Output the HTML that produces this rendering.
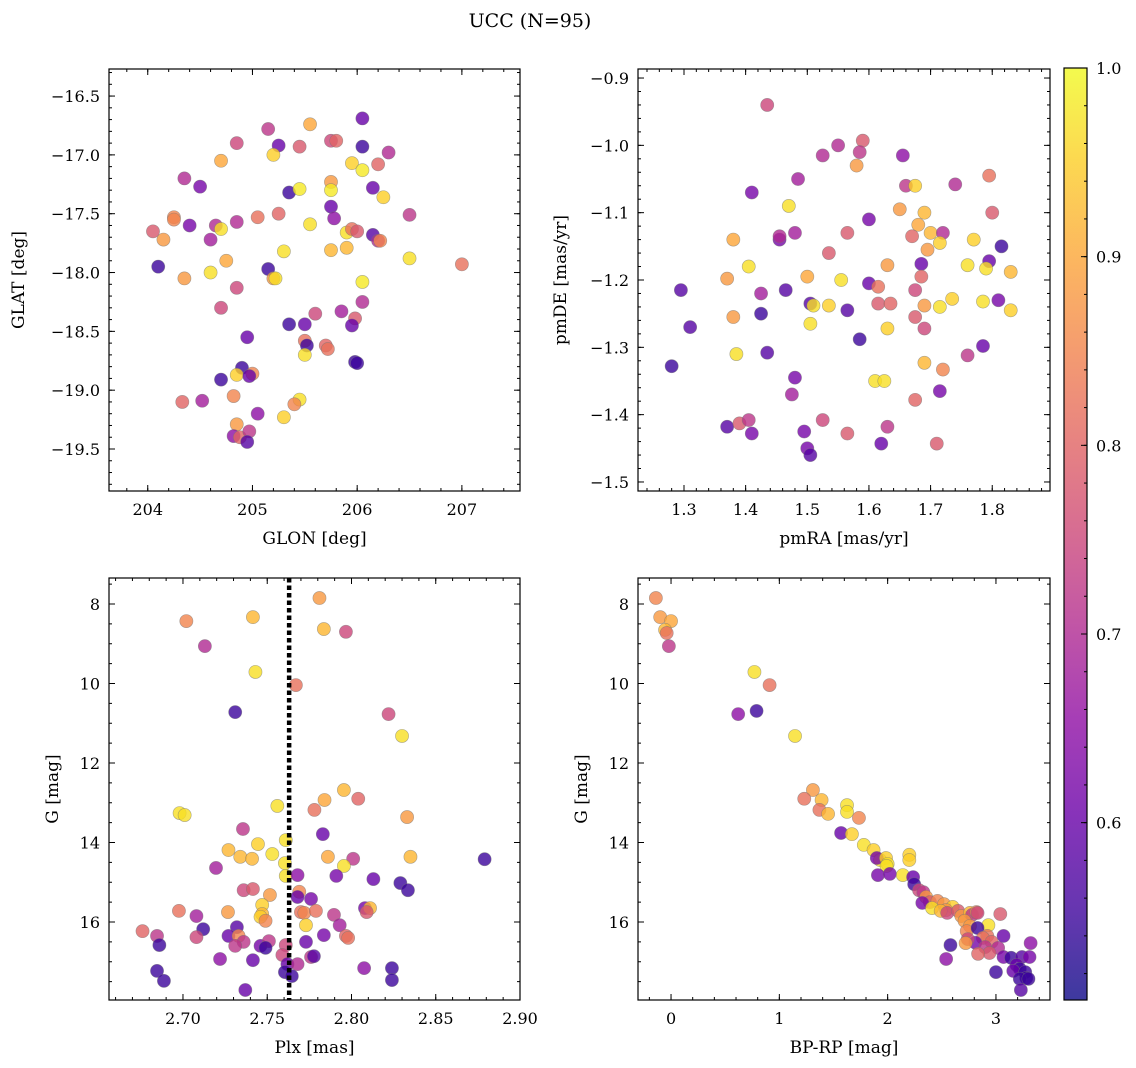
<!DOCTYPE html>
<html><head><meta charset="utf-8">
<style>
body{margin:0;background:#fff;}
svg{display:block;font-family:"DejaVu Serif","Liberation Serif",serif;}
</style></head>
<body>
<svg id="fig" width="1136" height="1068" viewBox="0 0 1136 1068" xmlns="http://www.w3.org/2000/svg">
<rect width="1136" height="1068" fill="#fff"/>
<text x="530" y="27" font-size="19" text-anchor="middle">UCC (N=95)</text>
</svg>
<script>
// ---- Panel 1: GLON / GLAT ----
const p1x=[206.05,205.15,205.25,205.45,205.55,204.85,205.2,204.7,205.75,205.8,206.05,206.3,204.35,204.5,205.35,205.45,205.75,205.75,205.95,206.05,206.2,206.15,206.25,205.75,205.78,206.5,204.25,204.25,204.05,204.15,204.4,204.6,204.65,204.7,204.85,205.05,205.25,205.55,205.9,205.95,206.0,206.15,206.2,206.22,205.3,205.75,205.9,206.5,207.0,204.1,204.35,204.6,204.75,205.15,205.2,205.22,206.05,204.85,204.7,206.05,205.6,205.85,205.98,205.95,205.35,205.5,204.95,205.5,205.52,205.7,205.72,205.5,205.98,206.0,204.7,204.9,204.85,205.0,204.97,204.33,204.52,204.82,205.45,205.4,205.05,205.3,204.85,204.82,204.88,204.97,204.95];
const p1y=[-16.69,-16.78,-16.92,-16.93,-16.74,-16.9,-17.0,-17.05,-16.88,-16.88,-16.93,-16.98,-17.2,-17.27,-17.32,-17.29,-17.23,-17.3,-17.07,-17.13,-17.08,-17.28,-17.36,-17.44,-17.54,-17.51,-17.53,-17.55,-17.65,-17.72,-17.6,-17.72,-17.6,-17.63,-17.57,-17.53,-17.5,-17.59,-17.66,-17.63,-17.65,-17.68,-17.73,-17.73,-17.82,-17.81,-17.79,-17.88,-17.93,-17.95,-18.05,-18.0,-17.9,-17.97,-18.05,-18.05,-18.08,-18.13,-18.3,-18.25,-18.35,-18.33,-18.39,-18.45,-18.44,-18.44,-18.55,-18.58,-18.62,-18.62,-18.65,-18.7,-18.76,-18.77,-18.91,-18.81,-18.87,-18.86,-18.88,-19.1,-19.09,-19.05,-19.08,-19.12,-19.2,-19.23,-19.29,-19.39,-19.4,-19.35,-19.44];
const p1c=[0.6,0.72,0.6,0.78,0.9,0.75,0.95,0.9,0.75,0.8,0.55,0.7,0.7,0.62,0.55,0.98,0.88,0.98,0.95,0.98,0.8,0.6,0.95,0.6,0.65,0.72,0.85,0.85,0.78,0.88,0.62,0.68,0.7,0.97,0.7,0.82,0.8,0.97,0.97,0.82,0.78,0.58,0.7,0.85,0.97,0.92,0.92,0.97,0.82,0.55,0.88,0.97,0.9,0.55,0.88,0.97,0.98,0.75,0.75,0.7,0.75,0.68,0.78,0.6,0.55,0.6,0.6,0.82,0.55,0.8,0.82,0.97,0.55,0.55,0.55,0.55,0.95,0.85,0.6,0.8,0.68,0.85,0.97,0.85,0.65,0.95,0.88,0.65,0.8,0.72,0.58];
// ---- Panel 2: pmRA / pmDE ----
const p2x=[1.435,1.55,1.525,1.59,1.585,1.58,1.655,1.66,1.675,1.74,1.795,1.41,1.485,1.47,1.8,1.65,1.69,1.6,1.68,1.48,1.455,1.455,1.38,1.565,1.67,1.7,1.72,1.715,1.77,1.815,1.535,1.695,1.405,1.63,1.685,1.76,1.795,1.79,1.83,1.37,1.5,1.555,1.6,1.615,1.685,1.295,1.425,1.465,1.505,1.51,1.535,1.615,1.635,1.675,1.69,1.715,1.735,1.785,1.81,1.83,1.31,1.38,1.425,1.505,1.565,1.63,1.675,1.69,1.585,1.28,1.385,1.435,1.69,1.72,1.76,1.785,1.48,1.61,1.625,1.475,1.675,1.715,1.37,1.39,1.405,1.41,1.495,1.525,1.565,1.63,1.5,1.505,1.62,1.71];
const p2y=[-0.94,-1.0,-1.015,-0.993,-1.01,-1.03,-1.015,-1.06,-1.06,-1.058,-1.045,-1.07,-1.05,-1.09,-1.1,-1.095,-1.1,-1.11,-1.118,-1.13,-1.14,-1.135,-1.14,-1.13,-1.135,-1.13,-1.13,-1.145,-1.14,-1.15,-1.16,-1.155,-1.18,-1.178,-1.176,-1.178,-1.172,-1.183,-1.188,-1.198,-1.195,-1.2,-1.205,-1.21,-1.195,-1.215,-1.22,-1.215,-1.235,-1.238,-1.238,-1.235,-1.235,-1.215,-1.238,-1.24,-1.228,-1.232,-1.23,-1.245,-1.27,-1.255,-1.25,-1.265,-1.245,-1.272,-1.255,-1.272,-1.288,-1.328,-1.31,-1.308,-1.323,-1.333,-1.312,-1.298,-1.345,-1.35,-1.35,-1.37,-1.378,-1.365,-1.418,-1.413,-1.408,-1.428,-1.425,-1.408,-1.428,-1.418,-1.45,-1.46,-1.443,-1.443];
const p2c=[0.75,0.7,0.7,0.78,0.72,0.88,0.65,0.72,0.95,0.7,0.82,0.62,0.68,0.97,0.78,0.88,0.92,0.62,0.9,0.68,0.62,0.7,0.9,0.78,0.8,0.92,0.7,0.95,0.95,0.55,0.78,0.88,0.97,0.88,0.6,0.97,0.6,0.97,0.92,0.88,0.9,0.97,0.6,0.82,0.8,0.58,0.68,0.58,0.58,0.97,0.95,0.78,0.8,0.75,0.88,0.97,0.95,0.97,0.62,0.95,0.58,0.88,0.55,0.97,0.58,0.95,0.78,0.75,0.55,0.55,0.97,0.58,0.92,0.85,0.72,0.6,0.62,0.97,0.97,0.68,0.8,0.62,0.58,0.78,0.72,0.62,0.62,0.75,0.78,0.72,0.62,0.58,0.6,0.78];
// ---- Panel 3: Plx / G ----
const p3x=[2.781,2.702,2.7415,2.7836,2.7967,2.713,2.743,2.767,2.731,2.822,2.830,2.7955,2.804,2.784,2.698,2.701,2.778,2.756,2.833,2.7356,2.783,2.761,2.7445,2.727,2.753,2.734,2.741,2.786,2.801,2.835,2.879,2.7955,2.7196,2.7605,2.761,2.768,2.813,2.791,2.829,2.8335,2.736,2.7415,2.7516,2.769,2.768,2.776,2.747,2.747,2.746,2.7267,2.6976,2.708,2.749,2.77,2.772,2.7789,2.7896,2.808,2.811,2.809,2.793,2.773,2.712,2.676,2.6846,2.708,2.732,2.727,2.733,2.736,2.731,2.746,2.751,2.761,2.773,2.7836,2.7967,2.798,2.686,2.749,2.722,2.7415,2.759,2.776,2.7777,2.762,2.768,2.8075,2.824,2.6846,2.7605,2.7646,2.824,2.6887,2.737];
const p3y=[7.85,8.43,8.33,8.63,8.70,9.06,9.71,10.04,10.72,10.77,11.32,12.68,12.9,12.93,13.26,13.31,13.18,13.08,13.36,13.66,13.79,13.94,14.04,14.19,14.29,14.36,14.41,14.36,14.41,14.36,14.42,14.59,14.64,14.52,14.84,14.82,14.92,14.84,15.02,15.2,15.2,15.17,15.32,15.24,15.37,15.42,15.57,15.8,15.87,15.75,15.72,15.85,15.97,15.75,15.77,15.72,15.82,15.65,15.65,15.75,16.08,16.08,16.18,16.23,16.35,16.38,16.13,16.35,16.35,16.5,16.6,16.6,16.48,16.58,16.5,16.33,16.35,16.4,16.58,16.65,16.93,16.96,16.83,16.88,16.86,17.06,17.06,17.16,17.16,17.23,17.26,17.36,17.46,17.48,17.71];
const p3c=[0.88,0.85,0.92,0.92,0.75,0.7,0.97,0.82,0.55,0.75,0.97,0.92,0.8,0.9,0.97,0.97,0.82,0.97,0.88,0.72,0.6,0.97,0.95,0.92,0.97,0.92,0.92,0.9,0.72,0.92,0.55,0.97,0.68,0.97,0.97,0.65,0.6,0.62,0.55,0.55,0.75,0.78,0.88,0.85,0.6,0.62,0.95,0.92,0.95,0.88,0.82,0.68,0.85,0.82,0.85,0.82,0.72,0.62,0.92,0.78,0.68,0.95,0.55,0.8,0.72,0.75,0.58,0.6,0.85,0.72,0.72,0.62,0.72,0.75,0.6,0.62,0.8,0.82,0.55,0.55,0.65,0.6,0.75,0.72,0.58,0.6,0.7,0.65,0.55,0.55,0.55,0.55,0.55,0.55,0.6];
const plxLine=2.763;
// ---- Panel 4: BP-RP / G ----
const p4x=[-0.14,-0.1,0,-0.055,-0.04,-0.02,0.77,0.91,0.62,0.79,1.145,1.31,1.23,1.39,1.37,1.625,1.625,1.45,1.735,1.57,1.67,1.78,1.87,1.93,1.9,1.985,2.0,2.2,2.2,1.99,2.14,1.91,2.02,2.235,2.245,2.29,2.33,2.355,2.39,2.32,2.46,2.52,2.6,2.54,2.41,2.49,2.55,2.65,2.68,2.76,2.78,2.82,2.83,2.71,3.04,2.76,2.73,2.93,2.83,2.92,2.88,2.96,2.81,2.74,2.72,2.9,3.02,3.07,3.32,2.94,2.835,3.07,3.14,3.24,3.31,2.54,2.58,3.19,3.22,3.0,3.16,3.27,3.28,3.22,3.3,3.23];
const p4y=[7.85,8.33,8.43,8.65,8.73,9.06,9.71,10.04,10.77,10.69,11.32,12.68,12.9,12.93,13.18,13.06,13.23,13.28,13.38,13.76,13.79,14.06,14.19,14.44,14.39,14.39,14.54,14.31,14.44,14.59,14.82,14.82,14.79,14.87,15.05,15.2,15.25,15.37,15.5,15.52,15.47,15.55,15.62,15.7,15.65,15.72,15.77,15.72,15.85,15.77,15.82,15.75,15.77,15.97,15.8,16.1,16.23,16.08,16.15,16.35,16.4,16.5,16.52,16.43,16.53,16.63,16.65,16.35,16.53,16.78,16.8,16.88,16.9,16.88,16.88,16.93,16.58,17.08,17.18,17.26,17.23,17.26,17.41,17.43,17.43,17.71];
const p4c=[0.85,0.88,0.9,0.92,0.82,0.72,0.97,0.82,0.65,0.55,0.97,0.88,0.82,0.92,0.82,0.97,0.97,0.92,0.85,0.6,0.95,0.97,0.95,0.97,0.62,0.95,0.97,0.95,0.95,0.97,0.97,0.62,0.62,0.6,0.55,0.75,0.72,0.88,0.78,0.62,0.85,0.88,0.95,0.88,0.97,0.92,0.75,0.78,0.88,0.92,0.72,0.85,0.75,0.88,0.78,0.88,0.85,0.97,0.55,0.82,0.82,0.8,0.62,0.75,0.88,0.72,0.7,0.6,0.65,0.78,0.8,0.62,0.55,0.58,0.62,0.65,0.55,0.6,0.55,0.55,0.6,0.55,0.55,0.55,0.55,0.58];
// ---- Colorbar ----
const cbTicks=[0.6,0.7,0.8,0.9,1.0];
const cbTickLabels=["0.6","0.7","0.8","0.9","1.0"];
const cMin=0.506,cMax=1.0;

const NS="http://www.w3.org/2000/svg";
const svg=document.getElementById('fig');
function mk(tag,attrs,parent){const e=document.createElementNS(NS,tag);for(const k in attrs)e.setAttribute(k,attrs[k]);(parent||svg).appendChild(e);return e;}
const stops=[[13,8,135],[65,4,157],[106,0,168],[143,13,164],[177,42,144],[204,71,120],[225,100,98],[242,132,75],[252,166,54],[252,206,37],[240,249,33]];
function plasma(t){t=Math.max(0,Math.min(1,t));const f=t*10,i=Math.min(9,Math.floor(f)),r=f-i;const a=stops[i],b=stops[i+1];return `rgb(${Math.round(a[0]+(b[0]-a[0])*r)},${Math.round(a[1]+(b[1]-a[1])*r)},${Math.round(a[2]+(b[2]-a[2])*r)})`;}
function cmap(v){return plasma((v-cMin)/(cMax-cMin));}
function fmt(v,d){return v.toFixed(d).replace('-','\u2212');}

function panel(o){
  const g=mk('g',{});
  
  
  const {x0,x1,y0,y1,xmin,xmax,ymin,ymax,inv}=o;
  const sx=v=>x0+(v-xmin)/(xmax-xmin)*(x1-x0);
  const sy=v=>inv? y0+(v-ymin)/(ymax-ymin)*(y1-y0) : y1-(v-ymin)/(ymax-ymin)*(y1-y0);
  const clip=mk('clipPath',{id:'c'+o.name},g);mk('rect',{x:x0,y:y0,width:x1-x0,height:y1-y0},clip);
  const pts=mk('g',{'clip-path':`url(#c${o.name})`},g);
  
  
  for(let i=0;i<o.xs.length;i++){
    const c=mk('circle',{cx:sx(o.xs[i]),cy:sy(o.ys[i]),r:6.6,fill:cmap(o.cs[i]),'fill-opacity':0.8,stroke:'#777','stroke-opacity':0.6,'stroke-width':0.6},pts);
    
    
  }
  if(o.vline!==undefined){
    const l=mk('line',{x1:sx(o.vline),x2:sx(o.vline),y1:y0,y2:y1,stroke:'#000','stroke-width':4.5,'stroke-dasharray':'4.5,3'},pts);
    
    
  }
  mk('rect',{x:x0,y:y0,width:x1-x0,height:y1-y0,fill:'none',stroke:'#000','stroke-width':1.2},g);
  const tk=mk('g',{stroke:'#000','stroke-width':1},g);
  function ticks(min,max,step,isX,len){
    const s=Math.ceil(min/step-1e-9);
    for(let k=s;k*step<=max+1e-9;k++){const v=k*step;
      if(isX){const p=sx(v);mk('line',{x1:p,x2:p,y1:y1,y2:y1-len},tk);mk('line',{x1:p,x2:p,y1:y0,y2:y0+len},tk);}
      else{const p=sy(v);mk('line',{x1:x0,x2:x0+len,y1:p,y2:p},tk);mk('line',{x1:x1,x2:x1-len,y1:p,y2:p},tk);}
    }
  }
  ticks(xmin,xmax,o.xmaj,true,6);ticks(xmin,xmax,o.xmin_,true,3);
  ticks(ymin,ymax,o.ymaj,false,6);ticks(ymin,ymax,o.ymin_,false,3);
  o.xt.forEach(v=>{const t=mk('text',{x:sx(v),y:y1+24,'font-size':16,'text-anchor':'middle'},g);t.textContent=fmt(v,o.xd);});
  o.yt.forEach(v=>{const t=mk('text',{x:x0-9,y:sy(v)+6,'font-size':16,'text-anchor':'end'},g);t.textContent=fmt(v,o.yd);});
  const xl=mk('text',{x:(x0+x1)/2,y:y1+53,'font-size':17,'text-anchor':'middle'},g);xl.textContent=o.xlabel;
  
  const yx=o.ylx,yy=(y0+y1)/2;
  const yl=mk('text',{x:yx,y:yy,'font-size':17,'text-anchor':'middle',transform:`rotate(-90 ${yx} ${yy})`},g);yl.textContent=o.ylabel;
  
}
panel({name:'glon-glat-panel',x0:109,x1:520,y0:69,y1:491,xmin:203.63,xmax:207.555,ymin:-19.857,ymax:-16.27,xmaj:1,xmin_:0.2,ymaj:0.5,ymin_:0.1,xt:[204,205,206,207],xd:0,yt:[-16.5,-17,-17.5,-18,-18.5,-19,-19.5],yd:1,xs:p1x,ys:p1y,cs:p1c,xlabel:'GLON [deg]',ylabel:'GLAT [deg]',ylx:24});
panel({name:'pmra-pmde-panel',x0:638,x1:1050,y0:69,y1:491,xmin:1.2254,xmax:1.8937,ymin:-1.5134,ymax:-0.8866,xmaj:0.1,xmin_:0.02,ymaj:0.1,ymin_:0.02,xt:[1.3,1.4,1.5,1.6,1.7,1.8],xd:1,yt:[-0.9,-1.0,-1.1,-1.2,-1.3,-1.4,-1.5],yd:1,xs:p2x,ys:p2y,cs:p2c,xlabel:'pmRA [mas/yr]',ylabel:'pmDE [mas/yr]',ylx:566});
panel({name:'plx-g-panel',x0:109,x1:520,y0:578,y1:1000,xmin:2.6561,xmax:2.9,ymin:7.346,ymax:17.962,inv:true,xmaj:0.05,xmin_:0.01,ymaj:2,ymin_:0.5,xt:[2.70,2.75,2.80,2.85,2.90],xd:2,yt:[8,10,12,14,16],yd:0,xs:p3x,ys:p3y,cs:p3c,vline:plxLine,xlabel:'Plx [mas]',ylabel:'G [mag]',ylx:58});
panel({name:'color-magnitude-panel',x0:638,x1:1050,y0:578,y1:1000,xmin:-0.305,xmax:3.499,ymin:7.346,ymax:17.962,inv:true,xmaj:1,xmin_:0.2,ymaj:2,ymin_:0.5,xt:[0,1,2,3],xd:0,yt:[8,10,12,14,16],yd:0,xs:p4x,ys:p4y,cs:p4c,xlabel:'BP-RP [mag]',ylabel:'G [mag]',ylx:587});

// colorbar
const cb=mk('g',{});


const cx0=1064,cx1=1087,cy0=68,cy1=1000;
const defs=mk('defs',{},cb);
const lg=mk('linearGradient',{id:'cbg',x1:0,y1:1,x2:0,y2:0},defs);
for(let i=0;i<=20;i++){mk('stop',{offset:i/20,'stop-color':plasma(i/20),'stop-opacity':0.8},lg);}
mk('rect',{x:cx0,y:cy0,width:cx1-cx0,height:cy1-cy0,fill:'url(#cbg)'},cb);
mk('rect',{x:cx0,y:cy0,width:cx1-cx0,height:cy1-cy0,fill:'none',stroke:'#000','stroke-width':1.2},cb);
const csy=v=>cy1-(v-cMin)/(cMax-cMin)*(cy1-cy0);
for(let k=Math.ceil(cMin/0.02);k*0.02<=cMax+1e-9;k++){const p=csy(k*0.02);mk('line',{x1:cx1,x2:cx1-3,y1:p,y2:p,stroke:'#000'},cb);}
cbTicks.forEach((v,i)=>{const p=csy(v);mk('line',{x1:cx1,x2:cx1-6,y1:p,y2:p,stroke:'#000'},cb);
  const t=mk('text',{x:cx1+9,y:p+6,'font-size':16},cb);t.textContent=cbTickLabels[i];
  });
</script>
</body></html>
